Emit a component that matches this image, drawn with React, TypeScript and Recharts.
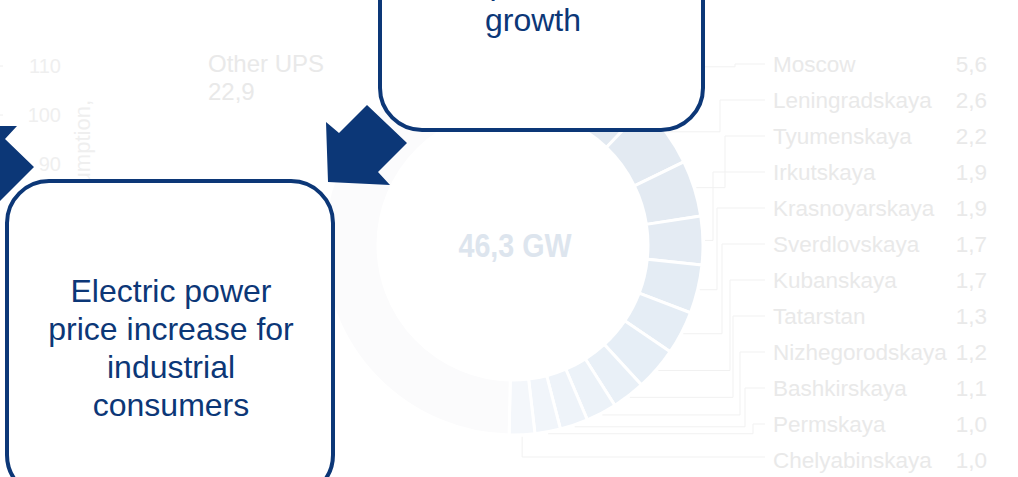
import { PieChart, Pie, Cell } from 'recharts';

const regions = [
  'Moscow',
  'Leningradskaya',
  'Tyumenskaya',
  'Irkutskaya',
  'Krasnoyarskaya',
  'Sverdlovskaya',
  'Kubanskaya',
  'Tatarstan',
  'Nizhegorodskaya',
  'Bashkirskaya',
  'Permskaya',
  'Chelyabinskaya',
];
const regionValues = [5.6, 2.6, 2.2, 1.9, 1.9, 1.7, 1.7, 1.3, 1.2, 1.1, 1.0, 1.0];
const otherLabel = 'Other UPS';
const otherValue = 22.9;
const totalLabel = '46,3 GW';
const axisTicks = [110, 100, 90];
const axisTitle = 'Electricity consumption,';

const regionColors = [
  '#e2e9f1', '#e3eaf2', '#e3eaf2', '#e4ebf3', '#e4ecf4', '#e5edf5',
  '#e6eef6', '#e9f0f7', '#ecf2f8', '#eef3f9', '#f1f5fa', '#f4f7fb',
];
const otherColor = '#fbfbfc';

const NAVY = '#0c3777';
const FAINT = '#e9e9e9';
const RADIAN = Math.PI / 180;
const FONT = "'Liberation Sans', Arial, sans-serif";

// elbow x for each leader line (null = drop straight down from the slice)
const elbowX = [735, 720, 725, 713, 717, 722, 730, 733, 740, 745, 753, null];

const pieData = [
  ...regions.map((name, i) => ({ name, value: regionValues[i] })),
  { name: otherLabel, value: otherValue },
];

const fmt = (v: number) => v.toFixed(1).replace('.', ',');

const renderLabel = (props: any) => {
  const { cx, cy, midAngle, outerRadius, index } = props;
  if (index === regions.length) {
    return (
      <g key="other">
        <text x={208} y={72} fontSize={24} fill={FAINT} fontFamily={FONT}>{otherLabel}</text>
        <text x={208} y={100} fontSize={24} fill={FAINT} fontFamily={FONT}>{fmt(otherValue)}</text>
      </g>
    );
  }
  const r = outerRadius + 2;
  const px = cx + r * Math.cos(-midAngle * RADIAN);
  const py = cy + r * Math.sin(-midAngle * RADIAN);
  const rowY = 64 + index * 36;
  const ex = elbowX[index];
  const d = ex === null
    ? `M${px},${py} V${rowY - 3} H765`
    : `M${px},${py} H${ex} V${rowY} H765`;
  return (
    <g key={`lab-${index}`}>
      <path d={d} stroke="#f1f1f1" strokeWidth={1} fill="none" />
      <text x={773} y={rowY + 8} fontSize={22.5} fill={FAINT} fontFamily={FONT}>{regions[index]}</text>
      <text x={987} y={rowY + 8} fontSize={22.5} fill={FAINT} fontFamily={FONT} textAnchor="end">
        {fmt(regionValues[index])}
      </text>
    </g>
  );
};

export default function App() {
  return (
    <div style={{ position: 'fixed', left: 0, top: 0, width: 1018, height: 477, background: '#fff', overflow: 'hidden' }}>
      <div style={{ position: 'absolute', left: 0, top: 0 }}>
        <PieChart width={1018} height={477} margin={{ top: 0, right: 0, bottom: 0, left: 0 }}>
          <Pie
            data={pieData}
            dataKey="value"
            cx={513}
            cy={245}
            innerRadius={135}
            outerRadius={190}
            startAngle={90}
            endAngle={-270}
            stroke="#ffffff"
            strokeWidth={3}
            label={renderLabel}
            labelLine={false}
            isAnimationActive={false}
          >
            {pieData.map((d, i) => (
              <Cell key={d.name} fill={i < regions.length ? regionColors[i] : otherColor} />
            ))}
          </Pie>
        </PieChart>
      </div>
      <svg width={1018} height={477} style={{ position: 'absolute', left: 0, top: 0, pointerEvents: 'none' }}>
        {/* donut centre total */}
        <text
          x={515}
          y={257}
          fontSize={33}
          fontWeight="bold"
          fill="#dde5ee"
          fontFamily={FONT}
          textAnchor="middle"
          textLength={113}
          lengthAdjust="spacingAndGlyphs"
        >
          {totalLabel}
        </text>

        {/* faded left axis from the underlying slide */}
        {axisTicks.map((t, i) => (
          <g key={t}>
            <line x1={0} x2={3} y1={66 + i * 49} y2={66 + i * 49} stroke="#eeeeee" />
            <text x={61} y={73 + i * 49} fontSize={20} fill="#efefef" fontFamily={FONT} textAnchor="end">{t}</text>
          </g>
        ))}
        <text
          x={90}
          y={100}
          fontSize={22}
          fill="#efefef"
          fontFamily={FONT}
          textAnchor="end"
          transform="rotate(-90, 90, 100)"
        >
          {axisTitle}
        </text>

        {/* arrows */}
        <polygon points="0,126 17,126 5,139 34,167 0,201" fill={NAVY} />
        <polygon points="367,105 407,143 378,172 390,185 328,182 326,122 339,133" fill={NAVY} />

        {/* boxes */}
        <rect x={7} y={181} width={326} height={316} rx={42} fill="#fff" stroke={NAVY} strokeWidth={4} />
        <text fontSize={32} fill={NAVY} fontFamily={FONT} textAnchor="middle">
          <tspan x={171} y={302}>Electric power</tspan>
          <tspan x={171} y={340}>price increase for</tspan>
          <tspan x={171} y={378}>industrial</tspan>
          <tspan x={171} y={416}>consumers</tspan>
        </text>

        <rect x={380} y={-200} width={323} height={330} rx={42} fill="#fff" stroke={NAVY} strokeWidth={4} />
        <text fontSize={32} fill={NAVY} fontFamily={FONT} textAnchor="middle">
          <tspan x={533} y={-6}>power</tspan>
          <tspan x={533} y={31}>growth</tspan>
        </text>
      </svg>
    </div>
  );
}
